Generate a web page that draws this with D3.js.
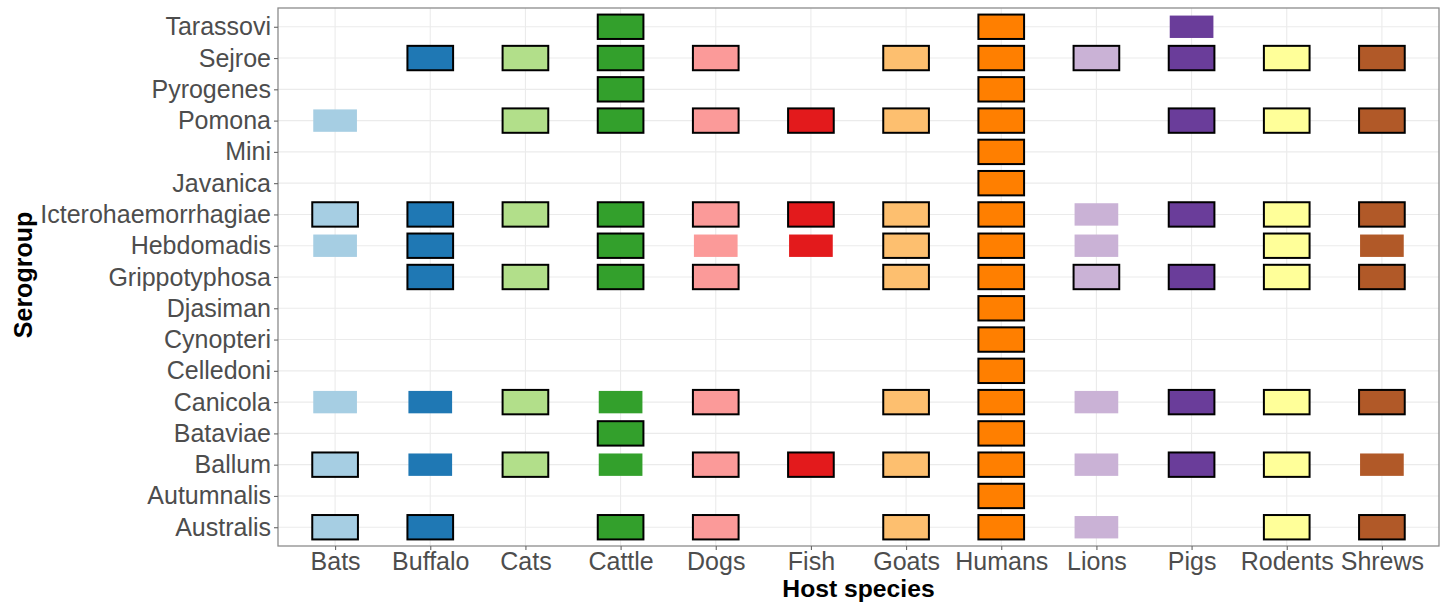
<!DOCTYPE html>
<html>
<head>
<meta charset="utf-8">
<script src="https://cdn.jsdelivr.net/npm/d3@7"></script>
<style>
  body { margin: 0; background: #fff; }
  svg text { font-family: "Liberation Sans", Arial, sans-serif; }
</style>
</head>
<body>
<svg id="chart" width="1442" height="605"></svg>
<script>
var hosts = ["Bats", "Buffalo", "Cats", "Cattle", "Dogs", "Fish", "Goats",
  "Humans", "Lions", "Pigs", "Rodents", "Shrews"];

// alphabetical, bottom to top
var serogroups = ["Australis", "Autumnalis", "Ballum", "Bataviae", "Canicola",
  "Celledoni", "Cynopteri", "Djasiman", "Grippotyphosa", "Hebdomadis",
  "Icterohaemorrhagiae", "Javanica", "Mini", "Pomona", "Pyrogenes", "Sejroe",
  "Tarassovi"];

// one string per host, one character per serogroup (same order as above)
// X = reported, outlined tile ; o = reported, no outline ; . = none
var presence = [
  "X.X.o....oX..o...", // Bats
  "X.o.o...XXX....X.", // Buffalo
  "..X.X...X.X..X.X.", // Cats
  "X.oXo...XXX..XXXX", // Cattle
  "X.X.X...XoX..X.X.", // Dogs
  "..X......oX..X...", // Fish
  "X.X.X...XXX..X.X.", // Goats
  "XXXXXXXXXXXXXXXXX", // Humans
  "o.o.o...Xoo....X.", // Lions
  "..X.X...X.X..X.Xo", // Pigs
  "X.X.X...XXX..X.X.", // Rodents
  "X.o.X...XoX..X.X."  // Shrews
];

var cells = [];
presence.forEach(function(row, h) {
  row.split("").forEach(function(c, s) {
    if (c != ".") cells.push({ host: hosts[h], group: serogroups[s], outlined: c == "X" });
  });
});

var svg = d3.select("#chart");
var pLeft = 278, pRight = 1439, pTop = 8, pBottom = 546;

var x = d3.scalePoint().domain(hosts).range([pLeft, pRight]).padding(0.6);
var y = d3.scalePoint().domain(serogroups).range([pBottom, pTop]).padding(0.6);
var color = d3.scaleOrdinal().domain(hosts).range(d3.schemePaired);

var tw = x.step() * 0.48, th = y.step() * 0.78;

// grid
svg.append("g").selectAll("line").data(hosts).enter().append("line")
  .attr("x1", function(d) { return x(d); }).attr("x2", function(d) { return x(d); })
  .attr("y1", pTop).attr("y2", pBottom)
  .style("stroke", "#ebebeb").style("stroke-width", 1.1);
svg.append("g").selectAll("line").data(serogroups).enter().append("line")
  .attr("y1", function(d) { return y(d); }).attr("y2", function(d) { return y(d); })
  .attr("x1", pLeft).attr("x2", pRight)
  .style("stroke", "#ebebeb").style("stroke-width", 1.1);

// tiles
svg.append("g").selectAll("rect").data(cells).enter().append("rect")
  .attr("x", function(d) { return x(d.host) - tw / 2 + (d.outlined ? 0 : 1); })
  .attr("y", function(d) { return y(d.group) - th / 2 + (d.outlined ? 0 : 1); })
  .attr("width", function(d) { return d.outlined ? tw : tw - 2; })
  .attr("height", function(d) { return d.outlined ? th : th - 2; })
  .style("fill", function(d) { return color(d.host); })
  .style("stroke", function(d) { return d.outlined ? "#000" : "none"; })
  .style("stroke-width", 2);

// panel border
svg.append("rect")
  .attr("x", pLeft).attr("y", pTop).attr("width", pRight - pLeft).attr("height", pBottom - pTop)
  .style("fill", "none").style("stroke", "#8c8c8c").style("stroke-width", 1.3);

// axes
var xAxis = svg.append("g").attr("transform", "translate(0," + pBottom + ")")
  .call(d3.axisBottom(x).tickSize(4).tickPadding(3));
var yAxis = svg.append("g").attr("transform", "translate(" + pLeft + ",0)")
  .call(d3.axisLeft(y).tickSize(4).tickPadding(3));
[xAxis, yAxis].forEach(function(a) {
  a.select(".domain").remove();
  a.selectAll(".tick line").style("stroke", "#666").style("stroke-width", 1.1);
  a.selectAll(".tick text").style("fill", "#4d4d4d").style("font-size", "25px");
});
xAxis.selectAll(".tick text").attr("dy", "0.68em");

svg.append("text")
  .attr("x", (pLeft + pRight) / 2).attr("y", 597)
  .attr("text-anchor", "middle")
  .style("font-size", "24.7px").style("font-weight", "bold").style("fill", "#000")
  .text("Host species");

svg.append("text")
  .attr("transform", "translate(32," + ((pTop + pBottom) / 2 - 2) + ") rotate(-90)")
  .attr("text-anchor", "middle")
  .style("font-size", "25px").style("font-weight", "bold").style("fill", "#000")
  .text("Serogroup");
</script>
</body>
</html>
